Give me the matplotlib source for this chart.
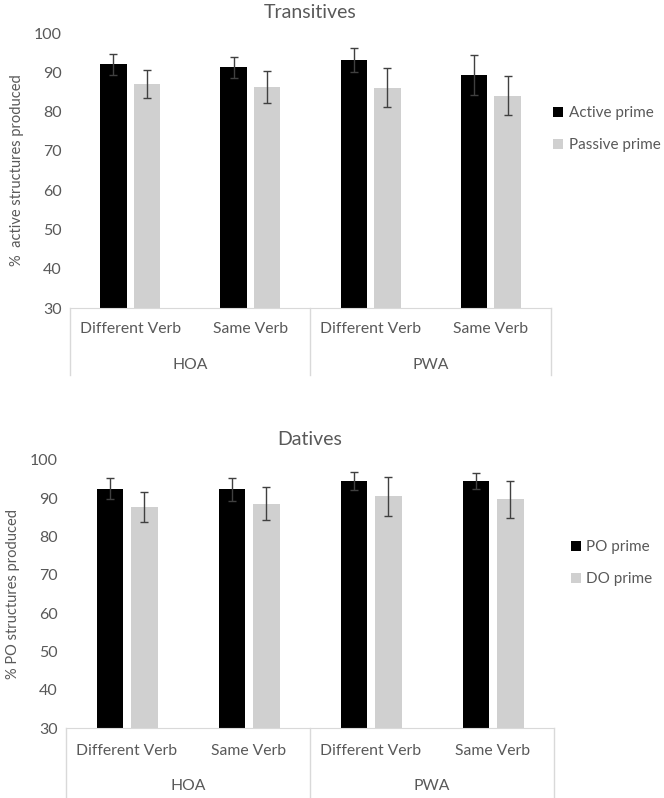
import matplotlib
import matplotlib.pyplot as plt
import numpy as np

matplotlib.use("Agg")

plt.rcParams["font.family"] = ["Lato", "DejaVu Sans"]

subcats = ["Different Verb", "Same Verb", "Different Verb", "Same Verb"]
groups = ["HOA", "PWA"]

trans_active = [92.0, 91.3, 93.2, 89.2]
trans_active_err = [2.7, 2.65, 3.05, 5.1]
trans_passive = [87.0, 86.3, 86.1, 84.0]
trans_passive_err = [3.5, 4.1, 5.0, 4.95]

dat_po = [92.5, 92.3, 94.5, 94.5]
dat_po_err = [2.75, 3.05, 2.35, 2.0]
dat_do = [87.7, 88.6, 90.5, 89.7]
dat_do_err = [3.95, 4.25, 5.1, 4.8]

TEXT = "#595959"
LINE = "#d9d9d9"
BLACK = "#000000"
GREY = "#d0d0d0"


def draw_panel(ax, title, ylabel, a, a_err, b, b_err, labels, sub_y, grp_y, line_y, leg_anchor):
	x = np.arange(len(subcats))
	w = 0.22
	ax.bar(x - 0.14, a, w, color=BLACK, label=labels[0], zorder=2)
	ax.bar(x + 0.14, b, w, color=GREY, label=labels[1], zorder=2)
	ax.errorbar(x - 0.14, a, yerr=a_err, fmt="none", ecolor="#404040", elinewidth=1, capsize=3, capthick=1, zorder=3)
	ax.errorbar(x + 0.14, b, yerr=b_err, fmt="none", ecolor="#404040", elinewidth=1, capsize=3, capthick=1, zorder=3)

	ax.set_xlim(-0.5, len(subcats) - 0.5)
	ax.set_ylim(30, 100)
	ax.set_yticks(range(30, 101, 10))
	ax.set_xticks([])
	for s in ["top", "right", "left"]:
		ax.spines[s].set_visible(False)
	ax.spines["bottom"].set_color(LINE)
	ax.tick_params(axis="y", length=0, labelsize=11.5, colors=TEXT, pad=6)
	ax.set_title(title, fontsize=14, color=TEXT, pad=11)
	ax.set_ylabel(ylabel, fontsize=10.5, color=TEXT, labelpad=7)

	tr = ax.get_xaxis_transform()
	for i, s in enumerate(subcats):
		ax.text(i, sub_y, s, transform=tr, ha="center", va="center", fontsize=11.3, color=TEXT)
	for j, g in enumerate(groups):
		ax.text(2 * j + 0.5, grp_y, g, transform=tr, ha="center", va="center", fontsize=11.3, color=TEXT)
	for xv in [-0.5, 1.5, 3.5]:
		ax.plot([xv, xv], [0, line_y], transform=tr, color=LINE, linewidth=1, clip_on=False)

	ax.legend(loc="center left", bbox_to_anchor=leg_anchor, frameon=False, fontsize=11,
		borderaxespad=0, borderpad=0, handlelength=0.65, handleheight=0.65, handletextpad=0.35,
		labelspacing=1.2, labelcolor=TEXT)


fig = plt.figure(figsize=(6.64, 7.98), dpi=100)
ax1 = fig.add_axes([0.1054, 0.614, 0.7244, 0.3446])
ax2 = fig.add_axes([0.0994, 0.0877, 0.735, 0.3359])

draw_panel(ax1, "Transitives", "%  active structures produced",
	trans_active, trans_active_err, trans_passive, trans_passive_err,
	["Active prime", "Passive prime"], -0.076, -0.207, -0.244, (1.005, 0.65))
draw_panel(ax2, "Datives", "% PO structures produced",
	dat_po, dat_po_err, dat_do, dat_do_err,
	["PO prime", "DO prime"], -0.086, -0.216, -0.27, (1.035, 0.615))

fig.savefig("out.png", dpi=100)
